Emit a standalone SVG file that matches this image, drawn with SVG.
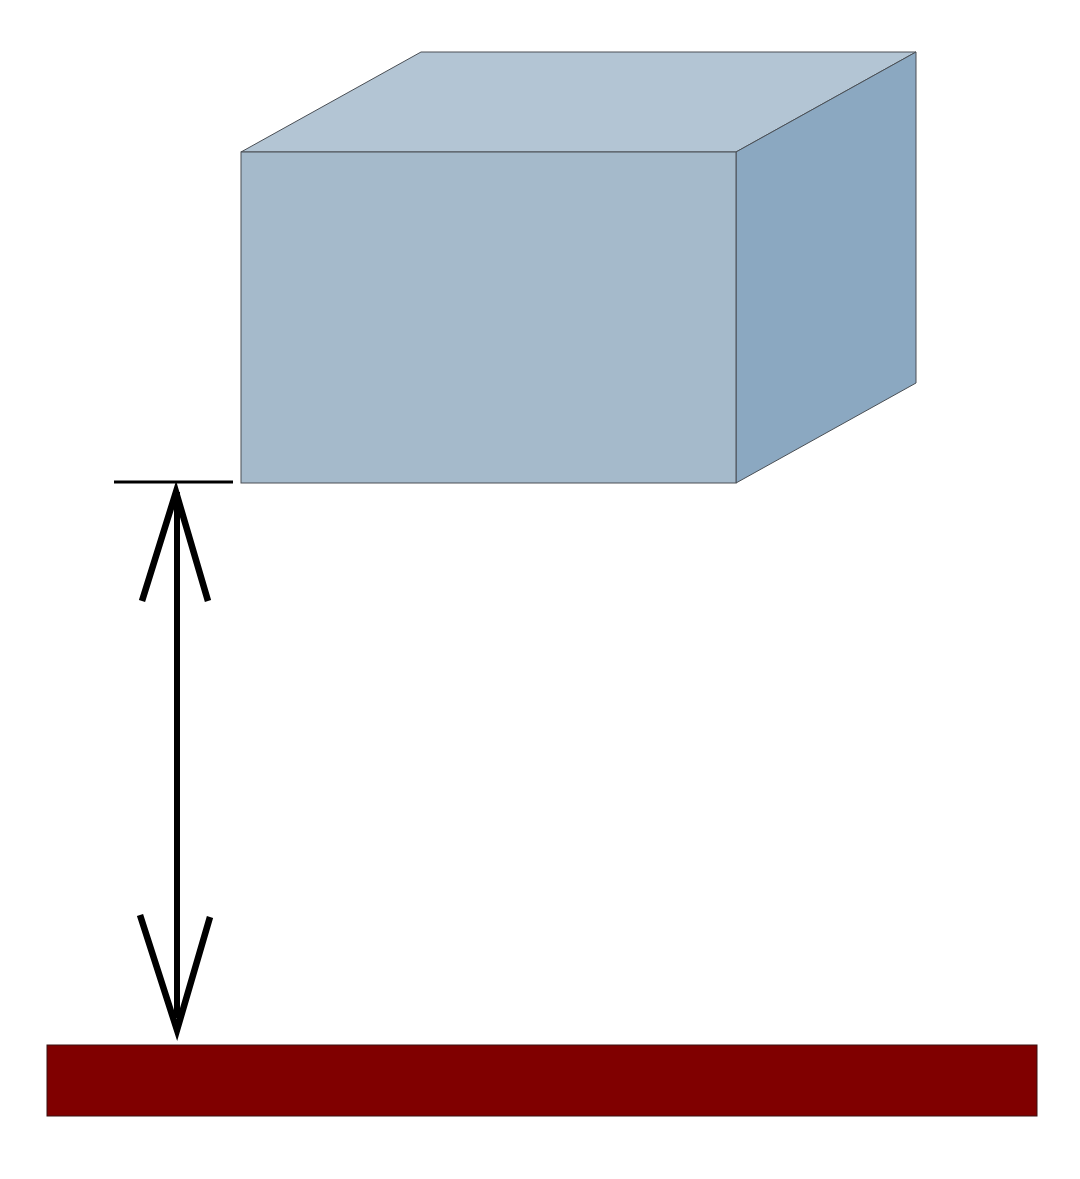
<svg xmlns="http://www.w3.org/2000/svg" width="1080" height="1179" viewBox="0 0 1080 1179">
<style>
.face{stroke:#4a4f55;stroke-width:1;stroke-linejoin:miter}
.blk{stroke:#000;fill:none}
</style>
<rect width="1080" height="1179" fill="#fff"/>
<g id="box">
<polygon class="face" points="241,152 421,52 916,52 736,152" fill="#b3c5d4"/>
<polygon class="face" points="736,152 916,52 916,383 736,483" fill="#8ba8c1"/>
<rect class="face" x="241" y="152" width="495" height="331" fill="#a5bacb"/>
</g>
<g id="ground">
<rect x="47" y="1045" width="990" height="71" fill="#800000" stroke="#3a1010" stroke-width="1"/>
</g>
<g id="connectors">
<line class="blk" x1="114" y1="482" x2="233" y2="482" stroke-width="3"/>
<line class="blk" x1="177" y1="492" x2="177" y2="1018" stroke-width="6"/>
<polyline class="blk" points="142,601 176,492 208,601" stroke-width="6.5" stroke-linejoin="miter" stroke-miterlimit="10"/>
<polyline class="blk" points="140,915 177,1030 210,917" stroke-width="6.5" stroke-linejoin="miter" stroke-miterlimit="10"/>
</g>
</svg>
